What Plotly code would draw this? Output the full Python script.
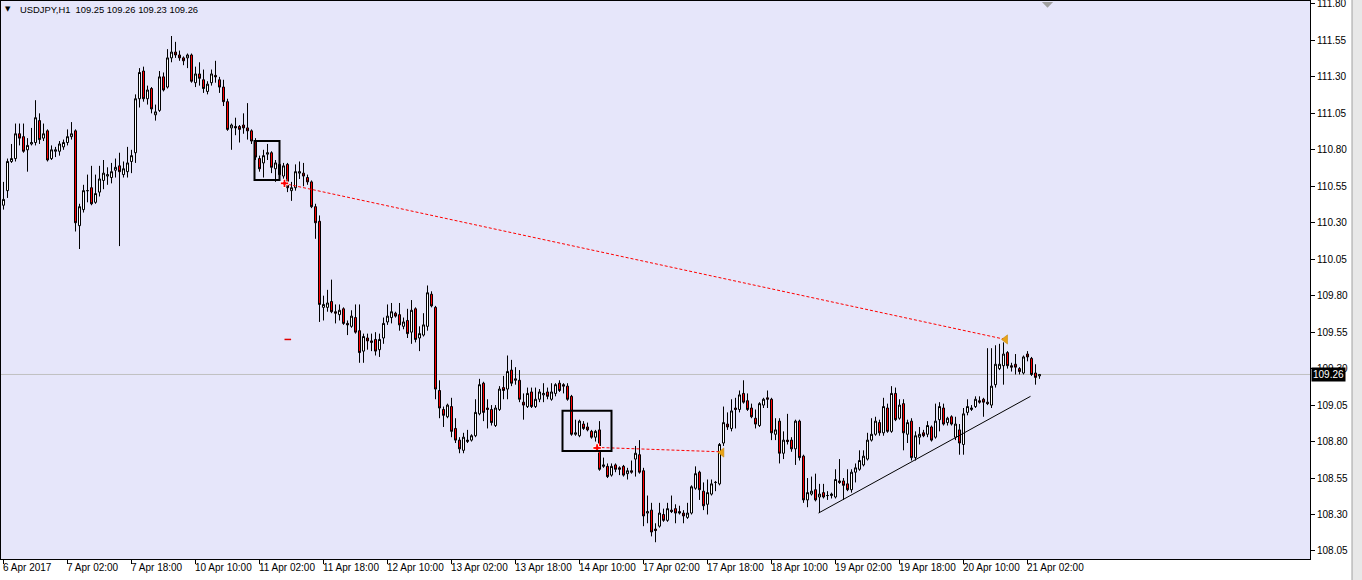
import plotly.graph_objects as go

# ---------------- data (USDJPY H1) ----------------
bar_index = list(range(260))

opens = [110.42,110.52,110.72,110.74,110.91,110.89,110.80,110.84,110.85,111.00,
         110.88,110.93,110.74,110.79,110.79,110.82,110.85,110.89,110.93,110.28,
         110.39,110.52,110.54,110.44,110.51,110.59,110.62,110.61,110.66,110.69,
         110.63,110.65,110.72,110.78,111.15,111.34,111.15,111.22,111.04,111.07,
         111.30,111.23,111.43,111.47,111.45,111.43,111.43,111.45,111.26,111.32,
         111.28,111.20,111.26,111.31,111.28,111.23,111.13,110.95,110.96,110.96,
         110.97,110.95,110.93,110.86,110.74,110.71,110.77,110.78,110.67,110.70,
         110.62,110.70,110.52,110.54,110.64,110.64,110.61,110.58,110.41,110.31,
         109.72,109.72,109.76,109.69,109.67,109.71,109.61,109.59,109.65,109.56,
         109.42,109.51,109.49,109.50,109.43,109.51,109.62,109.65,109.68,109.67,
         109.59,109.63,109.55,109.71,109.51,109.53,109.59,109.81,109.72,109.15,
         109.02,108.97,109.04,108.89,108.81,108.74,108.80,108.81,108.84,108.99,
         109.20,109.03,109.02,108.91,109.02,109.17,109.16,109.29,109.22,109.22,
         109.07,109.04,109.14,109.04,109.09,109.12,109.14,109.09,109.13,109.20,
         109.19,109.18,109.11,108.85,108.84,108.92,108.90,108.87,108.83,108.88,
         108.63,108.63,108.57,108.64,108.62,108.63,108.58,108.60,108.68,108.71,
         108.60,108.31,108.33,108.20,108.22,108.30,108.26,108.33,108.34,108.32,
         108.31,108.28,108.31,108.48,108.59,108.46,108.37,108.44,108.52,108.51,
         108.79,108.92,108.89,109.03,109.02,109.13,109.08,109.03,108.96,108.91,
         109.05,109.10,109.09,108.85,108.94,108.72,108.81,108.81,108.75,108.94,
         108.70,108.40,108.44,108.47,108.42,108.45,108.43,108.43,108.42,108.53,
         108.53,108.51,108.47,108.59,108.61,108.64,108.68,108.81,108.85,108.93,
         108.86,109.03,108.87,109.13,108.96,109.06,108.85,108.94,108.69,108.83,
         108.86,108.85,108.90,108.83,108.95,109.03,108.93,108.97,108.83,108.88,
         108.78,109.00,109.02,109.04,109.08,109.09,109.07,109.05,109.19,109.30,
         109.32,109.41,109.32,109.33,109.30,109.27,109.40,109.37,109.27,109.25]

highs = [110.58,110.74,110.84,110.98,110.98,110.98,110.88,110.95,111.14,111.05,
         110.98,110.94,110.83,110.82,110.86,110.87,110.94,110.99,110.94,110.43,
         110.56,110.63,110.69,110.63,110.69,110.73,110.68,110.71,110.74,110.78,
         110.72,110.82,110.80,111.18,111.36,111.37,111.24,111.23,111.11,111.34,
         111.33,111.49,111.58,111.54,111.48,111.44,111.46,111.46,111.37,111.40,
         111.35,111.27,111.35,111.41,111.30,111.28,111.15,110.98,111.02,110.97,
         111.05,111.12,110.94,110.88,110.76,110.80,110.84,110.79,110.73,110.71,
         110.71,110.71,110.58,110.70,110.72,110.71,110.63,110.59,110.43,110.35,
         109.80,109.84,109.91,109.74,109.74,109.72,109.63,109.70,109.74,109.74,
         109.54,109.54,109.54,109.55,109.54,109.65,109.74,109.75,109.69,109.75,
         109.65,109.71,109.77,109.72,109.59,109.68,109.87,109.83,109.73,109.22,
         109.04,109.06,109.10,108.96,108.83,108.86,108.88,108.85,109.09,109.23,
         109.21,109.09,109.05,109.05,109.18,109.25,109.39,109.36,109.31,109.29,
         109.13,109.17,109.17,109.17,109.16,109.20,109.17,109.20,109.20,109.22,
         109.20,109.20,109.12,108.95,108.95,108.94,108.93,108.88,108.88,108.94,
         108.69,108.65,108.65,108.65,108.63,108.64,108.62,108.67,108.77,108.81,
         108.62,108.43,108.38,108.24,108.38,108.34,108.38,108.43,108.37,108.36,
         108.33,108.38,108.50,108.63,108.60,108.52,108.54,108.54,108.53,108.79,
         109.04,109.00,109.09,109.10,109.15,109.22,109.13,109.06,109.02,109.07,
         109.10,109.15,109.10,108.96,108.96,108.87,108.99,108.83,108.95,108.95,
         108.71,108.55,108.56,108.58,108.51,108.51,108.46,108.45,108.61,108.68,
         108.55,108.61,108.61,108.65,108.74,108.74,108.86,108.96,108.97,108.95,
         109.10,109.06,109.18,109.17,109.09,109.09,108.95,108.96,108.87,108.90,
         108.88,108.94,108.91,109.06,109.07,109.06,108.97,108.98,108.97,108.92,
         109.03,109.09,109.05,109.11,109.11,109.10,109.44,109.44,109.46,109.47,
         109.48,109.42,109.34,109.40,109.31,109.39,109.42,109.38,109.33,109.26]

lows = [110.39,110.47,110.71,110.72,110.83,110.78,110.65,110.83,110.83,110.84,
        110.86,110.72,110.73,110.75,110.76,110.80,110.83,110.87,110.24,110.12,
        110.37,110.44,110.42,110.43,110.48,110.53,110.56,110.57,110.61,110.14,
        110.61,110.61,110.64,110.71,111.09,111.13,111.11,111.05,111.00,111.06,
        111.20,111.22,111.40,111.43,111.41,111.38,111.36,111.26,111.23,111.24,
        111.19,111.18,111.24,111.26,111.19,111.10,110.93,110.80,110.90,110.85,
        110.91,110.87,110.84,110.73,110.65,110.61,110.73,110.64,110.58,110.61,
        110.60,110.51,110.45,110.52,110.60,110.55,110.56,110.40,110.19,109.62,
        109.63,109.69,109.68,109.61,109.63,109.60,109.53,109.58,109.54,109.34,
        109.34,109.43,109.42,109.39,109.38,109.47,109.60,109.61,109.65,109.56,
        109.57,109.51,109.47,109.48,109.42,109.52,109.56,109.72,109.09,108.96,
        108.90,108.96,108.83,108.79,108.72,108.72,108.79,108.80,108.83,108.98,
        108.94,108.89,108.91,108.90,109.01,109.09,109.09,109.18,109.19,109.07,
        108.95,109.03,109.03,109.03,109.07,109.07,109.09,109.08,109.11,109.14,
        109.13,109.08,108.84,108.84,108.83,108.88,108.87,108.82,108.80,108.60,
        108.62,108.55,108.56,108.59,108.57,108.56,108.54,108.58,108.56,108.58,
        108.22,108.24,108.15,108.11,108.21,108.25,108.25,108.31,108.24,108.30,
        108.24,108.27,108.30,108.47,108.40,108.33,108.30,108.43,108.46,108.50,
        108.77,108.88,108.87,108.89,109.00,109.06,109.01,108.96,108.89,108.90,
        109.03,109.03,108.81,108.81,108.65,108.68,108.78,108.73,108.64,108.67,
        108.38,108.35,108.43,108.39,108.31,108.41,108.40,108.41,108.41,108.51,
        108.40,108.46,108.45,108.52,108.60,108.63,108.67,108.80,108.84,108.84,
        108.84,108.86,108.86,108.94,108.95,108.74,108.79,108.67,108.67,108.78,
        108.83,108.83,108.80,108.82,108.87,108.91,108.91,108.91,108.81,108.71,
        108.71,108.98,109.01,109.03,109.06,108.97,109.05,109.03,109.17,109.29,
        109.19,109.30,109.28,109.26,109.26,109.26,109.35,109.25,109.19,109.23]

closes = [110.46,110.72,110.74,110.91,110.88,110.79,110.83,110.85,111.02,110.87,
          110.91,110.73,110.80,110.80,110.84,110.85,110.89,110.91,110.30,110.41,
          110.52,110.52,110.43,110.50,110.60,110.64,110.63,110.65,110.68,110.65,
          110.67,110.71,110.76,111.15,111.33,111.15,111.21,111.08,111.06,111.30,
          111.21,111.43,111.47,111.45,111.43,111.41,111.45,111.27,111.32,111.29,
          111.22,111.25,111.32,111.30,111.23,111.13,110.94,110.97,110.95,110.94,
          110.95,110.93,110.86,110.75,110.67,110.76,110.78,110.68,110.71,110.63,
          110.69,110.54,110.54,110.65,110.65,110.62,110.58,110.41,110.30,109.74,
          109.74,109.75,109.69,109.68,109.70,109.61,109.60,109.66,109.55,109.41,
          109.52,109.49,109.48,109.42,109.50,109.61,109.66,109.69,109.66,109.60,
          109.62,109.54,109.70,109.50,109.54,109.60,109.82,109.73,109.16,109.03,
          108.98,109.05,108.87,108.81,108.75,108.83,108.81,108.84,109.00,109.19,
          109.00,109.02,108.93,109.03,109.16,109.15,109.28,109.20,109.23,109.09,
          109.05,109.13,109.04,109.09,109.14,109.13,109.11,109.14,109.19,109.15,
          109.18,109.09,108.85,108.86,108.94,108.89,108.88,108.83,108.87,108.61,
          108.64,108.56,108.63,108.61,108.61,108.57,108.60,108.59,108.72,108.59,
          108.29,108.32,108.18,108.19,108.31,108.26,108.34,108.32,108.31,108.31,
          108.29,108.31,108.49,108.58,108.47,108.36,108.45,108.51,108.52,108.78,
          108.93,108.90,109.01,109.02,109.12,109.07,109.02,108.97,108.92,109.06,
          109.09,109.09,108.86,108.88,108.72,108.81,108.80,108.75,108.94,108.69,
          108.40,108.45,108.46,108.40,108.44,108.42,108.43,108.44,108.54,108.52,
          108.50,108.47,108.59,108.62,108.67,108.70,108.81,108.85,108.94,108.86,
          109.04,108.87,109.13,108.95,109.05,108.86,108.93,108.69,108.84,108.85,
          108.84,108.91,108.81,108.94,109.04,108.92,108.96,108.92,108.92,108.79,
          108.99,109.04,109.03,109.09,109.07,109.07,109.06,109.18,109.33,109.33,
          109.40,109.32,109.31,109.31,109.28,109.38,109.38,109.26,109.24,109.26]

tick_bars = [0, 16, 32, 48, 64, 80, 96, 112, 128, 144, 160, 176, 192, 208, 224, 240, 256]
tick_labels = ["6 Apr 2017", "7 Apr 02:00", "7 Apr 18:00", "10 Apr 10:00", "11 Apr 02:00",
               "11 Apr 18:00", "12 Apr 10:00", "13 Apr 02:00", "13 Apr 18:00", "14 Apr 10:00",
               "17 Apr 02:00", "17 Apr 18:00", "18 Apr 10:00", "19 Apr 02:00", "19 Apr 18:00",
               "20 Apr 10:00", "21 Apr 02:00"]
price_ticks = [108.05, 108.30, 108.55, 108.80, 109.05, 109.30, 109.55, 109.80,
               110.05, 110.30, 110.55, 110.80, 111.05, 111.30, 111.55, 111.80]
price_tick_text = ["%.2f" % v for v in price_ticks]

last_price = 109.26
header = "USDJPY,H1  109.25 109.26 109.23 109.26"

# chart objects (bar index, price)
red_line_1 = ([70.0, 250.5], [110.57, 109.50])
red_line_2 = ([148.25, 179.25], [108.76, 108.73])
trend_line = ([203.75, 256.75], [108.31, 109.11])
box_1 = (62.75, 69.0, 110.86, 110.593)
box_2 = (139.75, 152.0, 109.012, 108.735)
red_arrows = ([70.25, 148.4], [110.57, 108.756])
gold_arrows = ([250.5, 179.6], [109.50, 108.725])
red_dash = ([70.25, 71.9], [109.50, 109.50])

FONT = "Liberation Sans"
X0, X1 = -0.625, 326.625
Y0, Y1 = 107.995, 111.820

fig = go.Figure()
fig.add_trace(go.Candlestick(
    x=bar_index, open=opens, high=highs, low=lows, close=closes,
    increasing=dict(line=dict(color="black", width=1), fillcolor="white"),
    decreasing=dict(line=dict(color="black", width=1), fillcolor="#FF0000"),
    whiskerwidth=0, hoverinfo="skip", showlegend=False))

# dotted red lines, trend line
for (xs, ys) in (red_line_1, red_line_2):
    fig.add_trace(go.Scatter(x=xs, y=ys, mode="lines", hoverinfo="skip", showlegend=False,
                             line=dict(color="#FF0000", width=1, dash="3px,2px")))
fig.add_trace(go.Scatter(x=trend_line[0], y=trend_line[1], mode="lines", hoverinfo="skip",
                         showlegend=False, line=dict(color="black", width=1)))
fig.add_trace(go.Scatter(x=red_dash[0], y=red_dash[1], mode="lines", hoverinfo="skip",
                         showlegend=False, line=dict(color="#E00000", width=1.5)))
fig.add_trace(go.Scatter(x=red_arrows[0], y=red_arrows[1], mode="markers", hoverinfo="skip",
                         showlegend=False,
                         marker=dict(symbol="cross", size=7, color="#FF0000",
                                     line=dict(color="white", width=1))))
fig.add_trace(go.Scatter(x=gold_arrows[0], y=gold_arrows[1], mode="markers", hoverinfo="skip",
                         showlegend=False,
                         marker=dict(symbol="triangle-left", size=8, color="#E8A317",
                                     line=dict(color="#C08000", width=0.5))))

shapes = []
# current price line
shapes.append(dict(type="line", xref="paper", yref="y", x0=0, x1=1, y0=last_price, y1=last_price,
                   line=dict(color="#C0C0C0", width=1), layer="below"))
for b in (box_1, box_2):
    shapes.append(dict(type="rect", xref="x", yref="y", x0=b[0], x1=b[1], y0=b[2], y1=b[3],
                       line=dict(color="black", width=2), fillcolor="rgba(0,0,0,0)"))
# chart shift marker (grey triangle at top)
shapes.append(dict(type="path", xref="x", yref="paper",
                   path="M 259.6,0.998 L 262.4,0.998 L 261,0.988 Z",
                   fillcolor="#A0A0A0", line=dict(width=0)))
# right window strip
pw = 1309.0
shapes.append(dict(type="rect", xref="paper", yref="paper",
                   x0=(1352 - 1) / pw, x1=(1363 - 1) / pw, y0=-0.05, y1=1.01,
                   fillcolor="#E8E8E8", line=dict(width=0)))
shapes.append(dict(type="line", xref="paper", yref="paper",
                   x0=(1352 - 1) / pw, x1=(1352 - 1) / pw, y0=-0.05, y1=1.01,
                   line=dict(color="#A0A0A0", width=1)))

annotations = []
for b, t in zip(tick_bars, tick_labels):
    annotations.append(dict(x=b, y=0, xref="x", yref="paper", text=t, showarrow=False,
                            xanchor="left", yanchor="top", xshift=-3, yshift=-1,
                            font=dict(family=FONT, size=10, color="black")))
annotations.append(dict(x=1, y=last_price, xref="paper", yref="y", text="109.26",
                        showarrow=False, xanchor="left", yanchor="middle", xshift=1,
                        bgcolor="black", borderpad=1,
                        font=dict(family=FONT, size=10, color="white")))
annotations.append(dict(x=0, y=1, xref="paper", yref="paper", text="▼",
                        showarrow=False, xanchor="left", yanchor="top", xshift=2, yshift=-2,
                        font=dict(family="DejaVu Sans", size=7, color="black")))
annotations.append(dict(x=0, y=1, xref="paper", yref="paper", text=header,
                        showarrow=False, xanchor="left", yanchor="top", xshift=17, yshift=-1,
                        font=dict(family=FONT, size=9.4, color="black")))

fig.update_layout(
    width=1362, height=580,
    margin=dict(l=1, r=52, t=1, b=21, pad=0, autoexpand=False),
    paper_bgcolor="white", plot_bgcolor="#E6E6FA",
    boxgap=0.5, boxgroupgap=0,
    shapes=shapes, annotations=annotations, showlegend=False,
    xaxis=dict(range=[X0, X1], showgrid=False, zeroline=False, rangeslider=dict(visible=False),
               tickmode="array", tickvals=tick_bars, showticklabels=False, automargin=False,
               ticks="outside", ticklen=4, tickcolor="black",
               showline=True, linecolor="black", linewidth=1, mirror=True),
    yaxis=dict(range=[Y0, Y1], side="right", showgrid=False, zeroline=False, automargin=False,
               tickmode="array", tickvals=price_ticks, ticktext=price_tick_text,
               ticks="outside", ticklen=4, tickcolor="black", ticklabeloverflow="allow",
               tickfont=dict(family=FONT, size=10, color="black"),
               showline=True, linecolor="black", linewidth=1, mirror=True),
)

fig.write_html("out.html")
